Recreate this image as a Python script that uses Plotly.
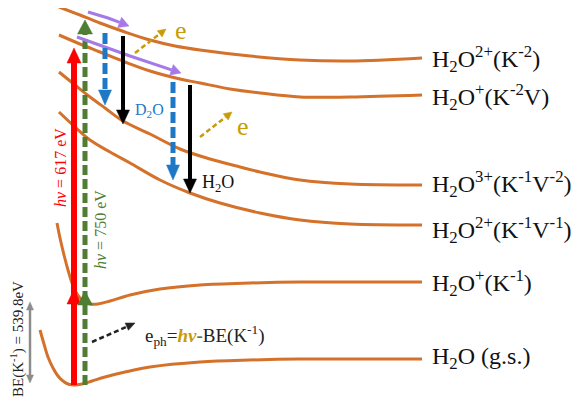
import math
import plotly.graph_objects as go

# ---------------- data (diagram coordinates, pixel-like units) ----------------
# potential-energy curves
C1_X = [59, 80, 100, 125, 150, 175, 200, 250, 300, 350, 422]
C1_Y = [7, 15, 23, 32, 40, 46, 50, 56, 60, 61, 58]
C2_X = [59, 80, 100, 125, 150, 180, 200, 230, 260, 300, 350, 422]
C2_Y = [35, 44, 52, 62, 71, 79, 83, 89, 93, 97, 97, 95]
C3_X = [59, 75, 90, 105, 123, 150, 180, 210, 240, 260, 300, 350, 422]
C3_Y = [72, 85, 97, 108, 121, 134, 149, 159, 167, 172, 180, 184, 185]
C4_X = [59, 75, 90, 110, 130, 160, 190, 220, 260, 300, 350, 422]
C4_Y = [112, 127, 140, 152, 163, 180, 193, 203, 213, 220, 224, 225]
C5_X = [57, 60, 64, 68, 72, 77, 83, 90, 98, 110, 130, 160, 200, 250, 300, 360, 422]
C5_Y = [223, 238, 255, 270, 283, 294, 301, 304, 304, 301, 295, 289, 285, 283, 282, 282, 282]
C6_X = [40, 44, 48, 53, 58, 63, 68, 74, 82, 92, 105, 125, 150, 200, 250, 300, 360, 422]
C6_Y = [330, 344, 357, 368, 376, 381, 384, 385, 384, 381, 377, 372, 367, 362, 360, 359, 359, 359]

STATE_LABELS = [
    "H<sub>2</sub>O<sup>2+</sup>(K<sup>-2</sup>)",
    "H<sub>2</sub>O<sup>+</sup>(K<sup>-2</sup>V)",
    "H<sub>2</sub>O<sup>3+</sup>(K<sup>-1</sup>V<sup>-2</sup>)",
    "H<sub>2</sub>O<sup>2+</sup>(K<sup>-1</sup>V<sup>-1</sup>)",
    "H<sub>2</sub>O<sup>+</sup>(K<sup>-1</sup>)",
    "H<sub>2</sub>O (g.s.)",
]
STATE_LABEL_Y = [59, 97, 184, 230, 283, 358]

# excitation arrows (vertical): x, start y, tip ys
RED_X, RED_Y0, RED_TIPS = 74, 385, [289, 48]
GREEN_X, GREEN_Y0, GREEN_TIPS = 85, 385, [291, 20]
# decay arrows (vertical): x, start y, tip y
BLUE_X, BLUE_Y0, BLUE_Y1 = [105, 173], [33, 82], [105, 180]
BLACK_X, BLACK_Y0, BLACK_Y1 = [123, 190], [36, 85], [124, 193]
# purple (curved) arrows along the curves
PUR1_X, PUR1_Y = [88, 108, 129], [12, 18, 26]
PUR2_X, PUR2_Y = [77, 130, 181], [37, 56, 73]
# emitted electrons
GOLD_X0, GOLD_Y0, GOLD_X1, GOLD_Y1 = [135, 200], [53, 137], [166, 232], [29, 112]
# photoelectron
PH_X, PH_Y = [92, 135], [342, 323]
# binding energy double arrow
BE_X, BE_Y = 30, [302, 383]

ORANGE = "#D4712A"
RED = "#FF0000"
GREEN = "#4F7D32"
BLUE = "#1F78C6"
PURPLE = "#A47AE6"
GOLD = "#C89B08"
SERIF = "Liberation Serif"
PAGE_OFFSET = 8  # default page body margin in the browser

fig = go.Figure()


def curve(xs, ys):
    fig.add_trace(go.Scatter(x=xs, y=ys, mode="lines", line=dict(color=ORANGE, width=3, shape="spline"),
                             hoverinfo="skip", showlegend=False))


def head(tx, ty, px, py, L, W, color):
    dx, dy = tx - px, ty - py
    n = math.hypot(dx, dy)
    dx, dy = dx / n, dy / n
    bx, by = tx - L * dx, ty - L * dy
    qx, qy = -dy, dx
    xs = [tx, bx + W / 2 * qx, bx - W / 2 * qx, tx]
    ys = [ty, by + W / 2 * qy, by - W / 2 * qy, ty]
    fig.add_trace(go.Scatter(x=xs, y=ys, mode="lines", fill="toself", fillcolor=color,
                             line=dict(color=color, width=0.5), hoverinfo="skip", showlegend=False))
    return bx, by


def arrow(xs, ys, color, width, L, W, dash="solid", both=False):
    xs, ys = list(xs), list(ys)
    bx, by = head(xs[-1], ys[-1], xs[-2], ys[-2], L, W, color)
    xs[-1], ys[-1] = bx, by
    if both:
        sx, sy = head(xs[0], ys[0], xs[1], ys[1], L, W, color)
        xs[0], ys[0] = sx, sy
    fig.add_trace(go.Scatter(x=xs, y=ys, mode="lines", line=dict(color=color, width=width, dash=dash),
                             hoverinfo="skip", showlegend=False))


for cx, cy in [(C1_X, C1_Y), (C2_X, C2_Y), (C3_X, C3_Y), (C4_X, C4_Y), (C5_X, C5_Y), (C6_X, C6_Y)]:
    curve(cx, cy)

# red excitation (solid) with two heads
fig.add_trace(go.Scatter(x=[RED_X, RED_X], y=[RED_Y0, RED_TIPS[-1] + 12], mode="lines",
                         line=dict(color=RED, width=6), hoverinfo="skip", showlegend=False))
for t in RED_TIPS:
    head(RED_X, t, RED_X, t + 10, 15, 14, RED)

# green excitation (dashed) with two heads
fig.add_trace(go.Scatter(x=[GREEN_X, GREEN_X], y=[GREEN_Y0, GREEN_TIPS[-1] + 12], mode="lines",
                         line=dict(color=GREEN, width=5, dash="10px,4px"), hoverinfo="skip", showlegend=False))
for t in GREEN_TIPS:
    head(GREEN_X, t, GREEN_X, t + 10, 14, 15, GREEN)

# purple
arrow(PUR1_X, PUR1_Y, PURPLE, 3, 10, 11)
arrow(PUR2_X, PUR2_Y, PURPLE, 3, 10, 11)

# blue dashed & black solid decays
for x, y0, y1 in zip(BLUE_X, BLUE_Y0, BLUE_Y1):
    arrow([x, x], [y0, y1], BLUE, 5, 15, 13, dash="11px,4px")
for x, y0, y1 in zip(BLACK_X, BLACK_Y0, BLACK_Y1):
    arrow([x, x], [y0, y1], "black", 4, 14, 13)

# gold emitted electrons
for x0, y0, x1, y1 in zip(GOLD_X0, GOLD_Y0, GOLD_X1, GOLD_Y1):
    arrow([x0, x1], [y0, y1], GOLD, 2.5, 8, 8, dash="5px,3px")

# photoelectron
arrow(PH_X, PH_Y, "#222222", 2.5, 9, 8, dash="5px,3px")

# BE double arrow
arrow([BE_X, BE_X], BE_Y, "#8C8C8C", 2.5, 8, 7, both=True)

ann = []
for lab, y in zip(STATE_LABELS, STATE_LABEL_Y):
    ann.append(dict(x=430, y=y, text=lab, xanchor="left", yanchor="middle", showarrow=False,
                    font=dict(family=SERIF, size=24, color="#111111")))

ann += [
    dict(x=60, y=168, text="<i>hν</i> = 617 eV", textangle=-90, showarrow=False,
         font=dict(family=SERIF, size=16, color=RED)),
    dict(x=100, y=230, text="<i>hν</i> = 750 eV", textangle=-90, showarrow=False,
         font=dict(family=SERIF, size=16, color=GREEN)),
    dict(x=17, y=339, text="BE(K<sup>-1</sup>) = 539.8eV", textangle=-90, showarrow=False,
         font=dict(family=SERIF, size=15, color="#222222")),
    dict(x=143, y=335, xanchor="left", showarrow=False,
         text="e<sub>ph</sub>=<span style='color:" + GOLD + "'><b><i>hν</i></b></span>"
              "<span style='color:" + GREEN + "'><b>-</b></span>BE(K<sup>-1</sup>)",
         font=dict(family=SERIF, size=19, color="#222222")),
    dict(x=133, y=110, xanchor="left", text="D<sub>2</sub>O", showarrow=False,
         font=dict(family=SERIF, size=16, color=BLUE)),
    dict(x=200, y=183, xanchor="left", text="H<sub>2</sub>O", showarrow=False,
         font=dict(family=SERIF, size=18, color="#111111")),
    dict(x=181, y=30, text="e", showarrow=False, font=dict(family=SERIF, size=26, color=GOLD)),
    dict(x=243, y=126, text="e", showarrow=False, font=dict(family=SERIF, size=26, color=GOLD)),
]

fig.update_layout(
    width=588, height=401, margin=dict(l=0, r=0, t=0, b=0),
    paper_bgcolor="white", plot_bgcolor="white",
    xaxis=dict(range=[PAGE_OFFSET, 588 + PAGE_OFFSET], visible=False, fixedrange=True),
    yaxis=dict(range=[401 + PAGE_OFFSET, PAGE_OFFSET], visible=False, fixedrange=True),
    annotations=ann, showlegend=False,
)

fig.write_html("out.html")
